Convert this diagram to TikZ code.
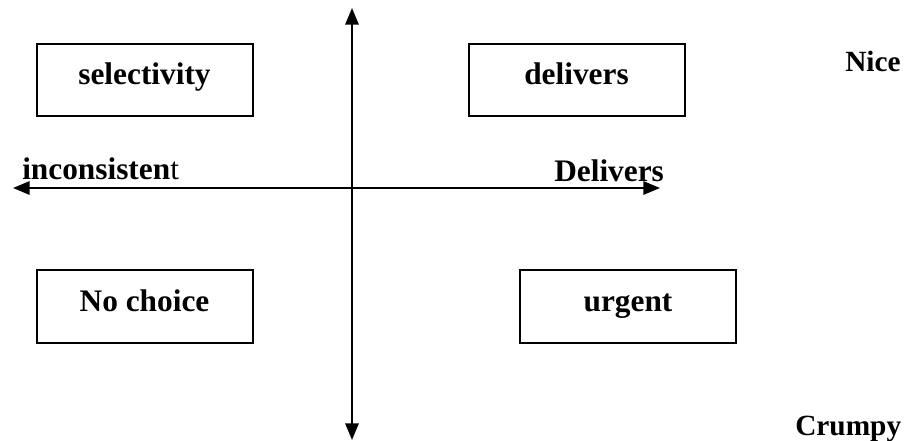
\documentclass[tikz,border=0pt]{standalone}
\usepackage{fontspec}
\setmainfont{Liberation Serif}
\usetikzlibrary{arrows.meta}
\tikzset{
  quadbox/.style={draw, line width=1.5pt, rectangle, inner sep=0pt,
    minimum width=162pt, minimum height=54pt, text height=15pt, text depth=7.5pt},
  axisline/.style={line width=1.5pt, {Triangle[length=12.5pt,width=10pt]}-{Triangle[length=12.5pt,width=10pt]}},
  lbl/.style={anchor=base west, inner sep=0pt},
  sidelbl/.style={lbl, font=\fontsize{22}{26}\selectfont\bfseries}
}
\begin{document}
\begin{tikzpicture}[x=0.75pt, y=-0.75pt, font=\fontsize{23.5}{28}\selectfont\bfseries]
\useasboundingbox (0,0) rectangle (912,441);
\coordinate (vtop) at (352,8);
\coordinate (vbot) at (352,440);
\coordinate (hleft) at (13,188);
\coordinate (hright) at (660,188);
\draw[axisline] (vbot) -- (vtop);
\draw[axisline] (hleft) -- (hright);
\node[quadbox] (sel) at (144.5,80) {selectivity};
\node[quadbox] (del) at (576.5,80) {delivers};
\node[quadbox] (noc) at (144.5,306.5) {No choice};
\node[quadbox] (urg) at (628,306.5) {urgent};
\node[lbl] (inc) at (22,180) {inconsisten{\mdseries t}};
\node[lbl] (Del) at (554,182) {Delivers};
\node[sidelbl] (nice) at (845,72) {Nice};
\node[sidelbl] (crumpy) at (795,435) {Crumpy};
\end{tikzpicture}
\end{document}
